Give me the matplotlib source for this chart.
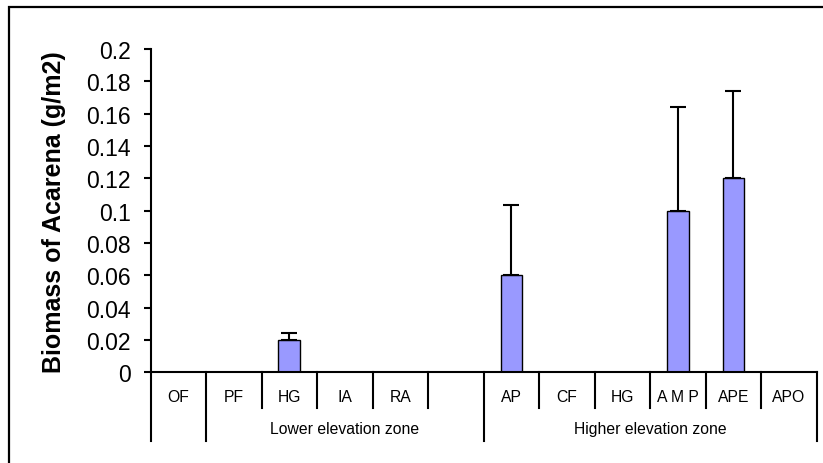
import matplotlib
matplotlib.use("Agg")
import matplotlib.pyplot as plt
from matplotlib.lines import Line2D
from matplotlib.patches import Rectangle
from matplotlib.transforms import blended_transform_factory
import numpy as np

plt.rcParams['font.family'] = ['Liberation Sans', 'DejaVu Sans']

# Data
categories = ["OF", "PF", "HG", "IA", "RA", "", "AP", "CF", "HG", "A M P", "APE", "APO"]
biomass = [0, 0, 0.02, 0, 0, 0, 0.06, 0, 0, 0.10, 0.12, 0]
err_upper = [0, 0, 0.0045, 0, 0, 0, 0.0435, 0, 0, 0.064, 0.054, 0]
groups = [("", 0, 1), ("Lower elevation zone", 1, 6), ("Higher elevation zone", 6, 12)]
y_ticks = [0, 0.02, 0.04, 0.06, 0.08, 0.1, 0.12, 0.14, 0.16, 0.18, 0.2]
y_tick_labels = ["0", "0.02", "0.04", "0.06", "0.08", "0.1", "0.12", "0.14", "0.16", "0.18", "0.2"]

W, H = 823, 464
fig = plt.figure(figsize=(W / 100, H / 100), dpi=100)
fig.patch.set_facecolor("white")

ax_left, ax_right, ax_top, ax_bottom = 150.5, 816.7, 50.0, 373.3
ax = fig.add_axes([ax_left / W, 1 - ax_bottom / H,
                   (ax_right - ax_left) / W, (ax_bottom - ax_top) / H])

n = len(categories)
x = np.arange(n) + 0.5
vals = np.array(biomass)
errs = np.array(err_upper)

ax.bar(x, vals, width=0.39, color="#9999FF", edgecolor="black", linewidth=1.0, zorder=2)
mask = errs > 0
ax.errorbar(x[mask], vals[mask], yerr=[np.zeros(mask.sum()), errs[mask]],
            fmt="none", ecolor="black", elinewidth=1.5, capsize=5.5, capthick=1.5, zorder=3)

ax.set_xlim(0, n)
ax.set_ylim(0, 0.2)
ax.set_yticks(y_ticks)
ax.set_yticklabels(y_tick_labels, fontsize=16.5)
ax.set_xticks([])
for s in ("top", "right"):
    ax.spines[s].set_visible(False)
for s in ("left", "bottom"):
    ax.spines[s].set_linewidth(1.5)
ax.tick_params(axis="y", direction="out", length=5, width=1.5, pad=9)

# Multi-level category axis
trans = blended_transform_factory(ax.transData, ax.transAxes)
h_ax = ax_bottom - ax_top
def ay(py):
    return (ax_bottom - py) / h_ax

long_edges = {g[1] for g in groups} | {n}
for b in range(n + 1):
    y_end = ay(442) if b in long_edges else ay(408.5)
    ax.add_line(Line2D([b, b], [0, y_end], transform=trans, color="black",
                       linewidth=1.5, clip_on=False))

for xi, lab in zip(x, categories):
    ax.text(xi, ay(397), lab, transform=trans, ha="center", va="center", fontsize=11.3)

for name, a, b in groups:
    if name:
        ax.text((a + b) / 2, ay(430), name, transform=trans, ha="center", va="center",
                fontsize=11.3)

fig.text(54 / W, 1 - ((ax_top + ax_bottom) / 2) / H, "Biomass of Acarena (g/m2)",
         rotation=90, ha="center", va="center", fontsize=18, fontweight="bold")

# Outer chart border
fig.add_artist(Rectangle((9 / W, -0.2), 2.0, 1 - 7.5 / H + 0.2, transform=fig.transFigure,
                         fill=False, edgecolor="black", linewidth=1.6))

fig.savefig("out.png", dpi=100)
